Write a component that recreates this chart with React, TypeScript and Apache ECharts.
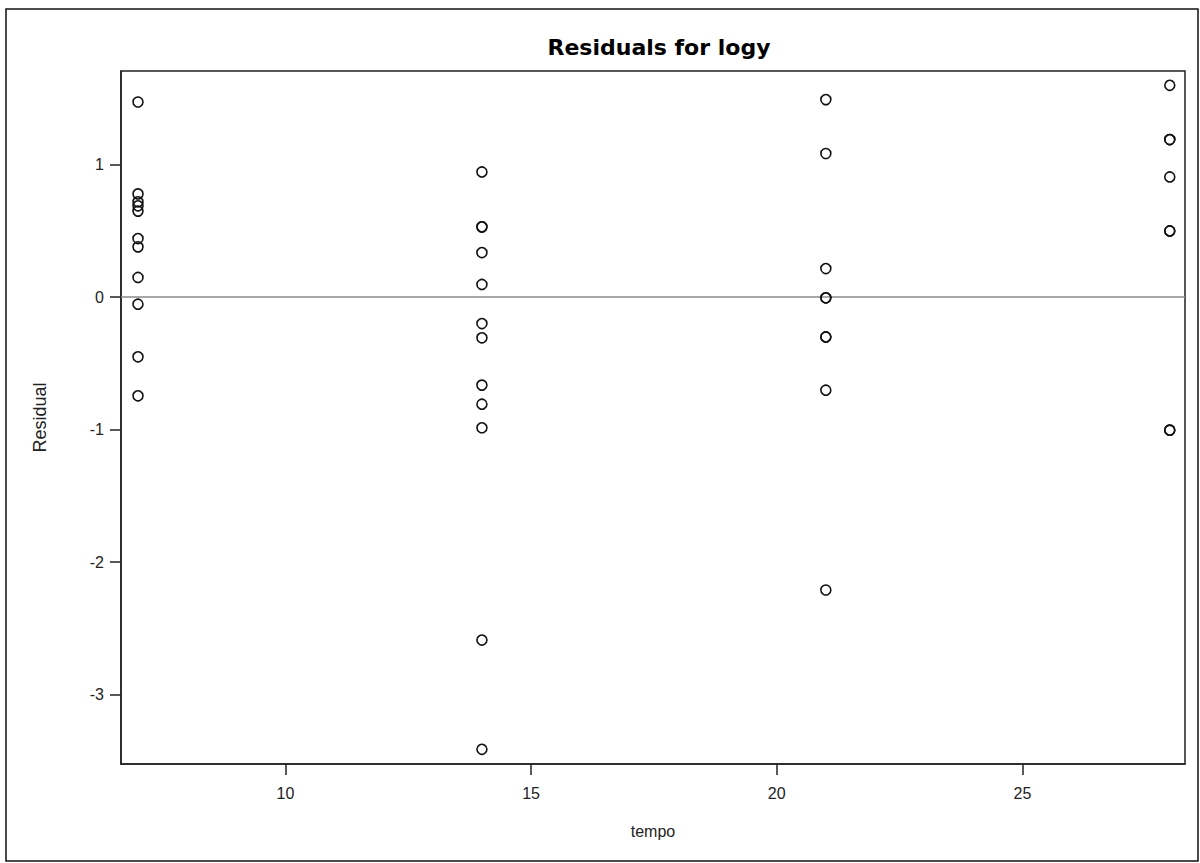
import React, { useEffect, useRef } from "react";
import * as echarts from "echarts";

const tempoLevels = [7, 14, 21, 28];
const residualsAt7 = [1.474, 0.78, 0.72, 0.69, 0.65, 0.443, 0.38, 0.149, -0.053, -0.45, -0.745];
const residualsAt14 = [0.946, 0.531, 0.531, 0.337, 0.096, -0.199, -0.307, -0.664, -0.808, -0.986, -2.589, -3.414];
const residualsAt21 = [1.492, 1.085, 0.216, -0.005, -0.005, -0.3, -0.3, -0.702, -2.211];
const residualsAt28 = [1.6, 1.19, 1.19, 0.908, 0.5, 0.5, -1.004, -1.004];
const xTicks = [10, 15, 20, 25];
const yTicks = [-3, -2, -1, 0, 1];

const FONT = "'Liberation Sans', Arial, sans-serif";

export default function App() {
  const ref = useRef<HTMLDivElement>(null);
  useEffect(() => {
    document.body.style.margin = "0";
    if (!ref.current) return;
    const chart = echarts.init(ref.current, undefined, { renderer: "svg" });
    const groups = [residualsAt7, residualsAt14, residualsAt21, residualsAt28];
    const data: number[][] = [];
    groups.forEach((g, i) => g.forEach((v) => data.push([tempoLevels[i], v])));
    chart.setOption({
      animation: false,
      backgroundColor: "#ffffff",
      graphic: [
        {
          type: "rect",
          shape: { x: 6, y: 9, width: 1192, height: 852 },
          style: { fill: "none", stroke: "#111", lineWidth: 1.5 },
          silent: true,
        },
      ],
      title: {
        text: "Residuals for logy",
        left: 654,
        top: 31,
        textAlign: "center",
        textStyle: { fontFamily: "'DejaVu Sans', Verdana, sans-serif", fontSize: 22, fontWeight: "bold", color: "#000" },
      },
      grid: {
        left: 121,
        top: 71,
        width: 1064,
        height: 693,
        show: true,
        borderColor: "#222",
        borderWidth: 1.5,
        backgroundColor: "transparent",
      },
      xAxis: {
        type: "value",
        min: 6.654,
        max: 28.31,
        name: "tempo",
        nameLocation: "middle",
        nameGap: 59,
        nameTextStyle: { fontFamily: FONT, fontSize: 16, color: "#222" },
        splitLine: { show: false },
        axisLine: { show: true, onZero: false, lineStyle: { color: "#222", width: 1.5 } },
        axisTick: { show: true, length: 11, customValues: xTicks, lineStyle: { color: "#222", width: 1.5 } },
        axisLabel: { customValues: xTicks, margin: 21, fontFamily: FONT, fontSize: 16, color: "#222" },
      },
      yAxis: {
        type: "value",
        min: -3.525,
        max: 1.708,
        name: "Residual",
        nameLocation: "middle",
        nameGap: 72,
        nameTextStyle: { fontFamily: FONT, fontSize: 18, color: "#222" },
        splitLine: { show: false },
        axisLine: { show: true, onZero: false, lineStyle: { color: "#222", width: 1.5 } },
        axisTick: { show: true, length: 11, customValues: yTicks, lineStyle: { color: "#222", width: 1.5 } },
        axisLabel: { customValues: yTicks, margin: 17, fontFamily: FONT, fontSize: 16, color: "#222" },
      },
      series: [
        {
          type: "scatter",
          data,
          symbol: "circle",
          symbolSize: 10,
          itemStyle: { color: "rgba(255,255,255,0)", borderColor: "#111", borderWidth: 1.6, opacity: 1 },
          z: 3,
          markLine: {
            silent: true,
            symbol: ["none", "none"],
            label: { show: false },
            lineStyle: { color: "#8a8a8a", width: 1.5, type: "solid" },
            data: [{ yAxis: 0 }],
            z: 1,
          },
        },
      ],
    });
    return () => chart.dispose();
  }, []);
  return <div ref={ref} style={{ width: 1200, height: 863 }} />;
}
